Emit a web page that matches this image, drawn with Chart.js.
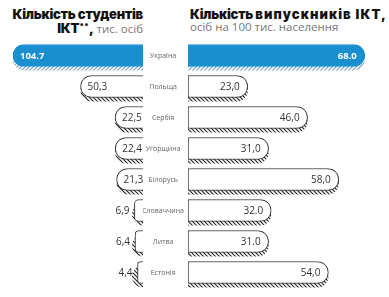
<!DOCTYPE html>
<html><head><meta charset="utf-8">
<script src="https://cdn.jsdelivr.net/npm/chart.js@4"></script>
<style>
body{margin:0;background:#fff;}
#wrap{position:relative;width:389px;height:297px;overflow:hidden;background:#fff}
.t{position:absolute;white-space:nowrap;line-height:13px}
.b{font-family:Inter,"DejaVu Sans",sans-serif;font-weight:900;font-size:13px;color:#111;letter-spacing:-0.2px}
.g{font-family:"Open Sans",sans-serif;font-weight:400;font-size:11.5px;color:#777;letter-spacing:0}
.sup{font-size:8px;vertical-align:4px;letter-spacing:0}
canvas{position:absolute;top:0}
</style></head><body>
<div id="wrap">
<div class="t b" style="right:246px;top:8px">Кількість студентів</div>
<div class="t b" style="right:246px;top:20px">ІКТ<span class="sup">**</span>,<span class="g"> тис. осіб</span></div>
<div class="t b" style="left:190px;top:8px">Кількість <span style="letter-spacing:1.1px">випускників ІКТ,</span></div>
<div class="t g" style="left:190px;top:20px">осіб на 100 тис. населення</div>
<canvas id="cl" width="150" height="297" style="left:0"></canvas>
<canvas id="cr" width="246" height="297" style="left:143px"></canvas>
</div>
<script>
const countries = ['Україна','Польща','Сербія','Угорщина','Білорусь','Словаччина','Литва','Естонія'];
const students = [104.7, 50.3, 22.5, 22.4, 21.3, 6.9, 6.4, 4.4];
const graduates = [68.0, 23.0, 46.0, 31.0, 58.0, 32.0, 31.0, 54.0];
const studentsSep = ['.', ',', ',', ',', ',', ',', ',', ','];
const graduatesSep = ['.', ',', ',', ',', ',', '.', '.', ','];

const BLUE = '#1a8fd0';
const fmt = (v, s) => v.toFixed(1).replace('.', s);

function pattern(ctx, color, dir){
  const c = document.createElement('canvas'); c.width = 4; c.height = 4;
  const g = c.getContext('2d'); g.strokeStyle = color; g.lineWidth = 1.1;
  g.beginPath();
  if (dir > 0) { g.moveTo(0,4); g.lineTo(4,0); g.moveTo(-1,1); g.lineTo(1,-1); g.moveTo(3,5); g.lineTo(5,3); }
  else { g.moveTo(0,0); g.lineTo(4,4); g.moveTo(-1,3); g.lineTo(1,5); g.moveTo(3,-1); g.lineTo(5,1); }
  g.stroke();
  return ctx.createPattern(c, 'repeat');
}

function roundPath(ctx, l, r, t, b, side){
  const h = b - t; const rad = Math.min(h/2, r - l);
  ctx.beginPath();
  if (side === 'left') {
    ctx.moveTo(r, t); ctx.lineTo(l + rad, t);
    ctx.arc(l + rad, t + h/2, h/2, -Math.PI/2, Math.PI/2, true);
    ctx.lineTo(r, b); ctx.closePath();
  } else {
    ctx.moveTo(l, t); ctx.lineTo(r - rad, t);
    ctx.arc(r - rad, t + h/2, h/2, -Math.PI/2, Math.PI/2, false);
    ctx.lineTo(l, b); ctx.closePath();
  }
}

function shadowPlugin(side){
  return {
    id: 'shadow' + side,
    beforeDatasetsDraw(chart){
      const ctx = chart.ctx;
      const meta = chart.getDatasetMeta(0);
      meta.data.forEach((el, i) => {
        const p = el.getProps(['x','y','base','height'], true);
        const l = Math.min(p.x, p.base), r = Math.max(p.x, p.base);
        const t = p.y - p.height/2 + 4, b = p.y + p.height/2 + 4;
        ctx.save();
        ctx.fillStyle = i === 0 ? pattern(ctx, '#6f9fc0', 1) : pattern(ctx, '#222', -1);
        roundPath(ctx, l, r, t, b, side);
        ctx.fill();
        ctx.restore();
      });
    }
  };
}

function labelPlugin(side, vals, seps){
  return {
    id: 'labels' + side,
    afterDatasetsDraw(chart){
      const ctx = chart.ctx;
      const meta = chart.getDatasetMeta(0);
      ctx.save();
      ctx.textBaseline = 'middle';
      meta.data.forEach((el, i) => {
        const p = el.getProps(['x','y','base'], true);
        const txt = fmt(vals[i], seps[i]);
        if (i === 0) { ctx.fillStyle = '#fff'; ctx.font = 'bold 9.5px "Open Sans"'; }
        else { ctx.fillStyle = '#333'; ctx.font = '10px "Open Sans"'; }
        const w = Math.abs(p.base - p.x);
        if (side === 'left') {
          if (w > 20) { ctx.textAlign = 'left'; ctx.fillText(txt, p.x + 7, p.y + 1); }
          else { ctx.textAlign = 'right'; ctx.fillText(txt, p.x - 5, p.y + 1); }
        } else {
          ctx.textAlign = 'right'; ctx.fillText(txt, p.x - 8, p.y + 1);
        }
      });
      ctx.restore();
    }
  };
}

const common = {
  responsive: false, animation: false, indexAxis: 'y',
  plugins: { legend: { display: false }, tooltip: { enabled: false } }
};

new Chart(document.getElementById('cl'), {
  type: 'bar',
  data: { labels: countries, datasets: [{
    data: students,
    backgroundColor: students.map((v,i) => i === 0 ? BLUE : '#fff'),
    borderColor: students.map((v,i) => i === 0 ? BLUE : '#333'),
    borderWidth: 1,
    borderSkipped: 'start',
    borderRadius: 11,
    barThickness: 22
  }]},
  options: Object.assign({}, common, {
    layout: { padding: { left: 12.6, right: 7, top: 40, bottom: 9 } },
    scales: {
      x: { reverse: true, min: 0, max: 105, display: false },
      y: { display: false }
    }
  }),
  plugins: [shadowPlugin('left'), labelPlugin('left', students, studentsSep)]
});

new Chart(document.getElementById('cr'), {
  type: 'bar',
  data: { labels: countries, datasets: [{
    data: graduates,
    backgroundColor: graduates.map((v,i) => i === 0 ? BLUE : '#fff'),
    borderColor: graduates.map((v,i) => i === 0 ? BLUE : '#333'),
    borderWidth: 1,
    borderSkipped: false,
    borderRadius: { topLeft: 0, bottomLeft: 0, topRight: 11, bottomRight: 11 },
    barThickness: 22
  }]},
  options: Object.assign({}, common, {
    layout: { padding: { left: 0, right: 19, top: 40, bottom: 9 } },
    scales: {
      x: { min: 0, max: 70, display: false },
      y: {
        afterFit(s){ s.width = 45; },
        grid: { display: false, drawTicks: false },
        border: { display: false },
        ticks: { autoSkip: false, crossAlign: 'center', padding: 4, color: '#666',
                 font: { family: '"Open Sans"', size: 7 } }
      }
    }
  }),
  plugins: [shadowPlugin('right'), labelPlugin('right', graduates, graduatesSep)]
});
</script>
</body></html>
